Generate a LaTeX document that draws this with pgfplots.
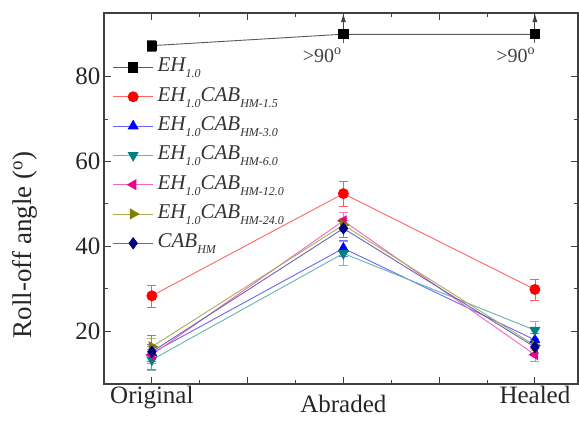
\documentclass[border=0pt]{standalone}
\usepackage{pgfplots}
\pgfplotsset{compat=1.18}
\usepackage{fontspec}
\setmainfont{Liberation Serif}
\usetikzlibrary{arrows.meta}
\definecolor{cteal}{HTML}{008080}
\definecolor{colive}{HTML}{808000}
\definecolor{cnavy}{HTML}{000080}
\newcommand{\sub}[1]{\raisebox{-6pt}{\fontsize{12}{14}\selectfont #1}}
\begin{document}
\begin{tikzpicture}[x=1pt,y=1pt]
\useasboundingbox (-104,-53) rectangle (475,384);
\begin{axis}[
  at={(0,0)}, anchor=south west,
  width=474pt, height=371pt, scale only axis,
  xmin=-0.25, xmax=2.225, ymin=7.5, ymax=95,
  xtick={0,0.5,1,1.5,2},
  xticklabels={Original,,{\raisebox{-9pt}[\height][\depth]{Abraded}},,Healed},
  minor x tick num=1,
  ytick={20,40,60,80}, minor y tick num=1,
  tick align=inside,
  major tick length=7pt, minor tick length=4pt,
  tick style={black!75, line width=1pt},
  axis line style={black!75, line width=1.3pt},
  ticklabel style={font=\fontsize{25}{30}\selectfont, text=black!85},
  xticklabel style={yshift=1pt},
  ylabel={Roll-off angle (\textsuperscript{o})},
  ylabel style={at={(axis description cs:-0.167,0.375)}, anchor=center, font=\fontsize{27}{32}\selectfont, text=black!85},
  /pgf/number format/assume math mode=true,
  legend cell align=left,
  legend style={draw=none, fill=none, at={(axis description cs:0.018,0.882)}, anchor=north west,
    font=\fontsize{21}{24}\selectfont\itshape, text=black!80, row sep=8.3pt, inner sep=0pt,
    nodes={inner sep=1pt, inner xsep=4pt, text height=14pt, text depth=5pt}},
  legend image code/.code={\draw[#1, mark repeat=2, mark phase=2] plot coordinates {(0pt,0pt) (20pt,0pt) (40pt,0pt)};},
  error bars/y dir=both, error bars/y explicit,
]
% EH1.0
\addplot[black!65, line width=0.9pt, mark=square*, mark size=4.6pt, mark options={fill=black, draw=black, solid},
  error bars/error bar style={black!65, line width=0.8pt}, error bars/error mark options={rotate=90, mark size=4.5pt, black!65}]
  table[x=x, y=y, y error=e] {
x y e
0 87.3 1.3
1 90 0
2 90 0
};
\addlegendentry{EH\sub{1.0}}
% EH1.0CAB HM-1.5
\addplot[red!60, line width=0.9pt, mark=*, mark size=5pt, mark options={fill=red, draw=red, solid},
  error bars/error bar style={red!65, line width=0.8pt}, error bars/error mark options={rotate=90, mark size=4.5pt, red!65}]
  table[x=x, y=y, y error=e] {
x y e
0 28.3 2.6
1 52.4 3.0
2 29.8 2.5
};
\addlegendentry{EH\sub{1.0}CAB\sub{HM-1.5}}
% HM-3.0
\addplot[blue!60, line width=0.9pt, mark=triangle*, mark size=5.5pt, mark options={fill=blue, draw=blue, solid},
  error bars/error bar style={blue!55, line width=0.8pt}, error bars/error mark options={rotate=90, mark size=4.5pt, blue!55}]
  table[x=x, y=y, y error=e] {
x y e
0 14.8 2.0
1 39.5 1.8
2 17.9 1.5
};
\addlegendentry{EH\sub{1.0}CAB\sub{HM-3.0}}
% HM-6.0
\addplot[cteal!60, line width=0.9pt, mark=triangle*, mark size=5.5pt, mark options={fill=cteal, draw=cteal, solid, rotate=180},
  error bars/error bar style={cteal!55, line width=0.8pt}, error bars/error mark options={rotate=90, mark size=4.5pt, cteal!55}]
  table[x=x, y=y, y error=e] {
x y e
0 13.2 2.5
1 38.3 2.8
2 20.2 2.0
};
\addlegendentry{EH\sub{1.0}CAB\sub{HM-6.0}}
% HM-12.0
\addplot[magenta!60, line width=0.9pt, mark=triangle*, mark size=5.5pt, mark options={fill=magenta, draw=magenta, solid, rotate=90},
  error bars/error bar style={magenta!55, line width=0.8pt}, error bars/error mark options={rotate=90, mark size=4.5pt, magenta!55}]
  table[x=x, y=y, y error=e] {
x y e
0 14.4 2.0
1 46.0 2.0
2 14.4 1.6
};
\addlegendentry{EH\sub{1.0}CAB\sub{HM-12.0}}
% HM-24.0
\addplot[colive!65, line width=0.9pt, mark=triangle*, mark size=5.5pt, mark options={fill=colive, draw=colive, solid, rotate=-90},
  error bars/error bar style={colive!55, line width=0.8pt}, error bars/error mark options={rotate=90, mark size=4.5pt, colive!55}]
  table[x=x, y=y, y error=e] {
x y e
0 16.3 2.0
1 45.0 1.5
2 16.6 1.5
};
\addlegendentry{EH\sub{1.0}CAB\sub{HM-24.0}}
% CAB HM
\addplot[cnavy!60, line width=0.9pt, mark=diamond*, mark size=5.5pt, mark options={fill=cnavy, draw=cnavy, solid},
  error bars/error bar style={cnavy!50, line width=0.8pt}, error bars/error mark options={rotate=90, mark size=4.5pt, cnavy!50}]
  table[x=x, y=y, y error=e] {
x y e
0 15.1 4.0
1 44.2 2.0
2 16.2 1.5
};
\addlegendentry{CAB\sub{HM}}
% arrows for >90
\addplot[forget plot, black!75, line width=1pt, no markers, quiver={u=0, v=\thisrow{v}}, -{Latex[length=9pt,width=5pt]}]
  table[x=x, y=y] {
x y v
1 90 5
2 90 5
};
\addplot[forget plot, black!65, line width=0.9pt, no markers, error bars/y dir=minus, error bars/error mark=none,
  error bars/error bar style={black!65, line width=0.9pt}]
  table[x=x, y=y, y error=e] {
x y e
1 90 2
2 90 2
};
\node[font=\fontsize{20}{24}\selectfont, text=black!75] at (axis cs:0.89,85) {\textgreater90\textsuperscript{o}};
\node[font=\fontsize{20}{24}\selectfont, text=black!75] at (axis cs:1.9,85) {\textgreater90\textsuperscript{o}};
\end{axis}
\end{tikzpicture}
\end{document}
